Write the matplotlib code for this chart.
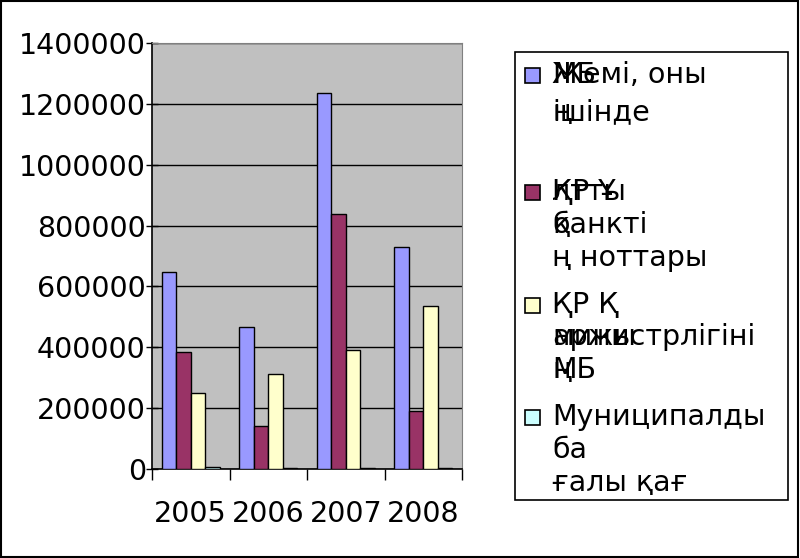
import numpy as np
import matplotlib.pyplot as plt
from matplotlib.patches import Rectangle

years = ['2005', '2006', '2007', '2008']
total = [648000, 468000, 1237000, 728000]
nb_notes = [385000, 142000, 838000, 192000]
minfin = [249000, 312000, 391000, 536000]
municipal = [5000, 4000, 4000, 3000]

series = [total, nb_notes, minfin, municipal]
colors = ['#9999FF', '#993366', '#FFFFCC', '#CCFFFF']

# legend lines (overlapping text as in the original)
legend_lines = [
    [['МБ', 'Жемі, оны'], ['ң', 'ішінде']],
    [['ҚР Ұ', 'лтты'], ['қ', 'банкті'], ['ң ноттары']],
    [['ҚР Қ'], ['аржы', 'министрлігіні'], ['ң', 'МБ']],
    [['Муниципалды'], ['ба'], ['ғалы қағ']],
]

fig = plt.figure(figsize=(8, 5.58), dpi=100)
ax = fig.add_axes([0.19, 0.1595, 0.3875, 0.7635])
ax.set_facecolor('#C0C0C0')

x = np.arange(len(years))
w = 0.187
for i, vals in enumerate(series):
    ax.bar(x + (i - 1.5) * w, vals, w, color=colors[i], edgecolor='black',
           linewidth=1.0, zorder=3)

ax.set_ylim(0, 1400000)
ax.set_xlim(-0.5, 3.5)
ax.set_yticks(np.arange(0, 1400001, 200000))
ax.ticklabel_format(style='plain', axis='y', useOffset=False)
ax.yaxis.grid(True, color='black', linewidth=1.0, zorder=0)
ax.set_axisbelow(True)
ax.tick_params(axis='y', direction='inout', length=9, width=1, labelsize=20.5, pad=0)
ax.set_xticks(x)
ax.set_xticklabels(years, fontsize=20.5)
ax.tick_params(axis='x', length=0, pad=22)
ax.set_xticks(np.arange(-0.5, 4, 1), minor=True)
ax.tick_params(axis='x', which='minor', direction='out', length=8, width=1)
for s in ['top', 'right']:
    ax.spines[s].set_color('#808080')
ax.spines['left'].set_linewidth(1.2)
ax.spines['bottom'].set_linewidth(1.2)

# legend box
H = 558.0
def fy(py):
    return 1 - py / H
fig.patches.append(Rectangle((515 / 800, fy(500)), (788 - 515) / 800, (500 - 52) / H,
                             transform=fig.transFigure, facecolor='white',
                             edgecolor='black', linewidth=1.2))
entry_y = [[75, 112], [192, 225, 258], [305, 337, 370], [417, 450, 483]]
for k, lines in enumerate(legend_lines):
    y0 = entry_y[k][0]
    fig.patches.append(Rectangle((525 / 800, fy(y0 + 8)), 15 / 800, 15 / H,
                                 transform=fig.transFigure, facecolor=colors[k],
                                 edgecolor='black', linewidth=1.2))
    for j, parts in enumerate(lines):
        for p in parts:
            fig.text(552 / 800, fy(entry_y[k][j]), p, fontsize=20.5, va='center', ha='left')

# outer border
fig.patches.append(Rectangle((0.001, 0.001), 0.996, 0.997, transform=fig.transFigure,
                             fill=False, edgecolor='black', linewidth=1.5))

fig.savefig('out.png', dpi=100)
